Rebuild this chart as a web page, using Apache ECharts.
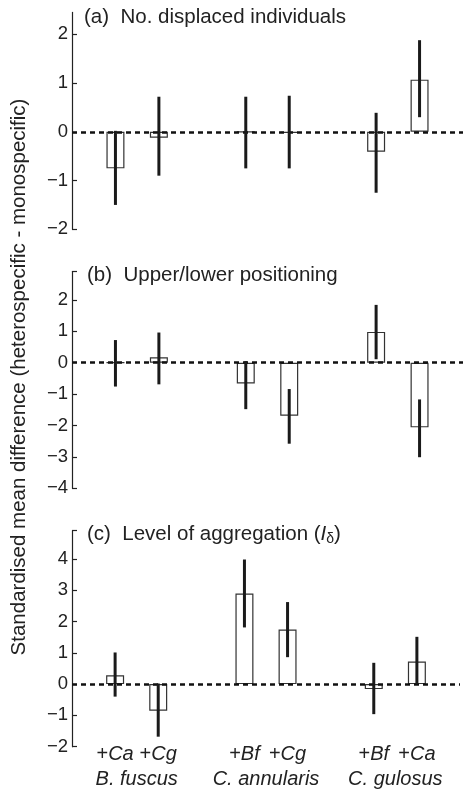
<!DOCTYPE html>
<html lang="en">
<head>
    <meta charset="UTF-8">
    <script src="https://cdn.jsdelivr.net/npm/echarts@6/dist/echarts.min.js"></script>
    <style>
        html, body { margin: 0; padding: 0; background: #fff; }
    </style>
</head>
<body>
    <div id="main" style="width: 463px; height: 798px;"></div>

    <script>
        // blank slots give the gaps between the three species groups
        var xCats = ['', '+Ca', '+Cg', '', '+Bf', '+Cg', '', '+Bf', '+Ca', ''];
        var species = ['B. fuscus', 'C. annularis', 'C. gulosus'];

        // (a) No. displaced individuals
        var aMean = [-0.75, -0.12, 0, -0.02, -0.41, 1.07];
        var aLow  = [-1.50, -0.90, -0.75, -0.75, -1.25, 0.30];
        var aHigh = [0.02, 0.72, 0.72, 0.74, 0.39, 1.88];

        // (b) Upper/lower positioning
        var bMean = [0, 0.17, -0.66, -1.69, 0.98, -2.06];
        var bLow  = [-0.76, -0.69, -1.48, -2.58, 0.11, -3.01];
        var bHigh = [0.72, 0.96, 0.05, -0.84, 1.84, -1.17];

        // (c) Level of aggregation
        var cMean = [0.28, -0.85, 2.89, 1.74, -0.16, 0.72];
        var cLow  = [-0.40, -1.68, 1.81, 0.86, -0.96, 0.00];
        var cHigh = [1.01, 0.02, 3.98, 2.62, 0.68, 1.51];

        var aTicks = [-2, -1, 0, 1, 2];
        var bTicks = [-4, -3, -2, -1, 0, 1, 2];
        var cTicks = [-2, -1, 0, 1, 2, 3, 4];

        var font = 'Liberation Sans, Arial, sans-serif';
        var ink = '#222';
        var bigFont = 20.5;

        var slots = [];
        xCats.forEach(function (c, i) { if (c) slots.push(i); });

        function barData(vals) {
            var out = xCats.map(function () { return '-'; });
            slots.forEach(function (s, k) { out[s] = vals[k]; });
            return out;
        }

        function errData(lo, hi) {
            return slots.map(function (s, k) { return [s, lo[k], hi[k]]; });
        }

        function minusSign(v) {
            return v < 0 ? '\u2212' + Math.abs(v) : String(v);
        }

        var grids = [
            { left: 72, right: 0, top: 12.4, height: 216.9 },
            { left: 72, right: 0, top: 271.6, height: 216.7 },
            { left: 72, right: 0, top: 530.7, height: 216.0 }
        ];

        function yAxisFor(idx, min, max, ticks, topTick) {
            return {
                type: 'value',
                gridIndex: idx,
                min: min,
                max: max,
                splitLine: { show: false },
                axisLine: { show: true, lineStyle: { color: ink, width: 1.2 } },
                axisTick: {
                    show: true, inside: true, length: 5,
                    lineStyle: { color: ink, width: 1.2 },
                    customValues: topTick ? ticks.concat([max]) : ticks
                },
                axisLabel: {
                    customValues: ticks,
                    formatter: minusSign,
                    color: ink, fontSize: 18.5, fontFamily: font, margin: 4
                }
            };
        }

        function xAxisFor(idx, showLabels) {
            return {
                type: 'category',
                gridIndex: idx,
                position: 'bottom',
                data: xCats,
                boundaryGap: false,
                axisLine: { show: false },
                axisTick: { show: false },
                axisLabel: {
                    show: showLabels,
                    interval: 0,
                    margin: -2,
                    formatter: function (v) {
                        return v ? '{p|+}{i|' + v.slice(1) + '}' : '';
                    },
                    rich: {
                        p: { fontSize: 20, fontFamily: font, color: ink },
                        i: { fontSize: 20, fontFamily: font, color: ink, fontStyle: 'italic' }
                    }
                }
            };
        }

        function barSeries(idx, vals) {
            return {
                type: 'bar',
                xAxisIndex: idx,
                yAxisIndex: idx,
                data: barData(vals),
                barWidth: 18,
                silent: true,
                animation: false,
                itemStyle: { color: '#fff', borderColor: '#333', borderWidth: 1.2 },
                markLine: {
                    silent: true,
                    symbol: 'none',
                    label: { show: false },
                    lineStyle: { color: '#111', type: [5, 4], width: 2.5 },
                    data: [{ yAxis: 0 }]
                },
                z: 2
            };
        }

        function errSeries(idx, lo, hi) {
            return {
                type: 'custom',
                xAxisIndex: idx,
                yAxisIndex: idx,
                data: errData(lo, hi),
                silent: true,
                animation: false,
                z: 5,
                renderItem: function (params, api) {
                    var p1 = api.coord([api.value(0), api.value(1)]);
                    var p2 = api.coord([api.value(0), api.value(2)]);
                    return {
                        type: 'line',
                        shape: { x1: p1[0], y1: p1[1], x2: p2[0], y2: p2[1] },
                        style: { stroke: '#1a1a1a', lineWidth: 3 }
                    };
                }
            };
        }

        var titleStyle = { fontSize: bigFont, fontFamily: font, color: ink, fontWeight: 'normal' };

        var chart = echarts.init(document.getElementById('main'));
        chart.setOption({
            animation: false,
            title: [
                { text: '(a)  No. displaced individuals', left: 84, top: 7, padding: 0, textStyle: titleStyle },
                { text: '(b)  Upper/lower positioning', left: 87, top: 265, padding: 0, textStyle: titleStyle },
                {
                    text: '(c)  Level of aggregation ({i|I}{s|\u03b4})', left: 87, top: 523, padding: 0,
                    textStyle: Object.assign({}, titleStyle, {
                        rich: {
                            i: { fontSize: bigFont, fontFamily: font, color: ink, fontStyle: 'italic' },
                            s: { fontSize: 14, fontFamily: font, color: ink, padding: [9, 0, 0, 0] }
                        }
                    })
                }
            ],
            graphic: [{
                type: 'text',
                x: 19,
                y: 377,
                rotation: Math.PI / 2,
                style: {
                    text: 'Standardised mean difference (heterospecific - monospecific)',
                    fontSize: bigFont, fontFamily: font, fill: ink,
                    align: 'center', verticalAlign: 'middle'
                }
            }],
            grid: grids,
            xAxis: [
                xAxisFor(0, false),
                xAxisFor(1, false),
                xAxisFor(2, true),
                {
                    type: 'category',
                    gridIndex: 2,
                    position: 'bottom',
                    data: species,
                    axisLine: { show: false },
                    axisTick: { show: false },
                    axisLabel: {
                        interval: 0, margin: 23,
                        color: ink, fontSize: 20, fontFamily: font, fontStyle: 'italic'
                    }
                }
            ],
            yAxis: [
                yAxisFor(0, -2, 2.45, aTicks, false),
                yAxisFor(1, -4, 2.9, bTicks, true),
                yAxisFor(2, -2, 4.9, cTicks, true)
            ],
            series: [
                barSeries(0, aMean), errSeries(0, aLow, aHigh),
                barSeries(1, bMean), errSeries(1, bLow, bHigh),
                barSeries(2, cMean), errSeries(2, cLow, cHigh)
            ]
        });
    </script>
</body>
</html>
